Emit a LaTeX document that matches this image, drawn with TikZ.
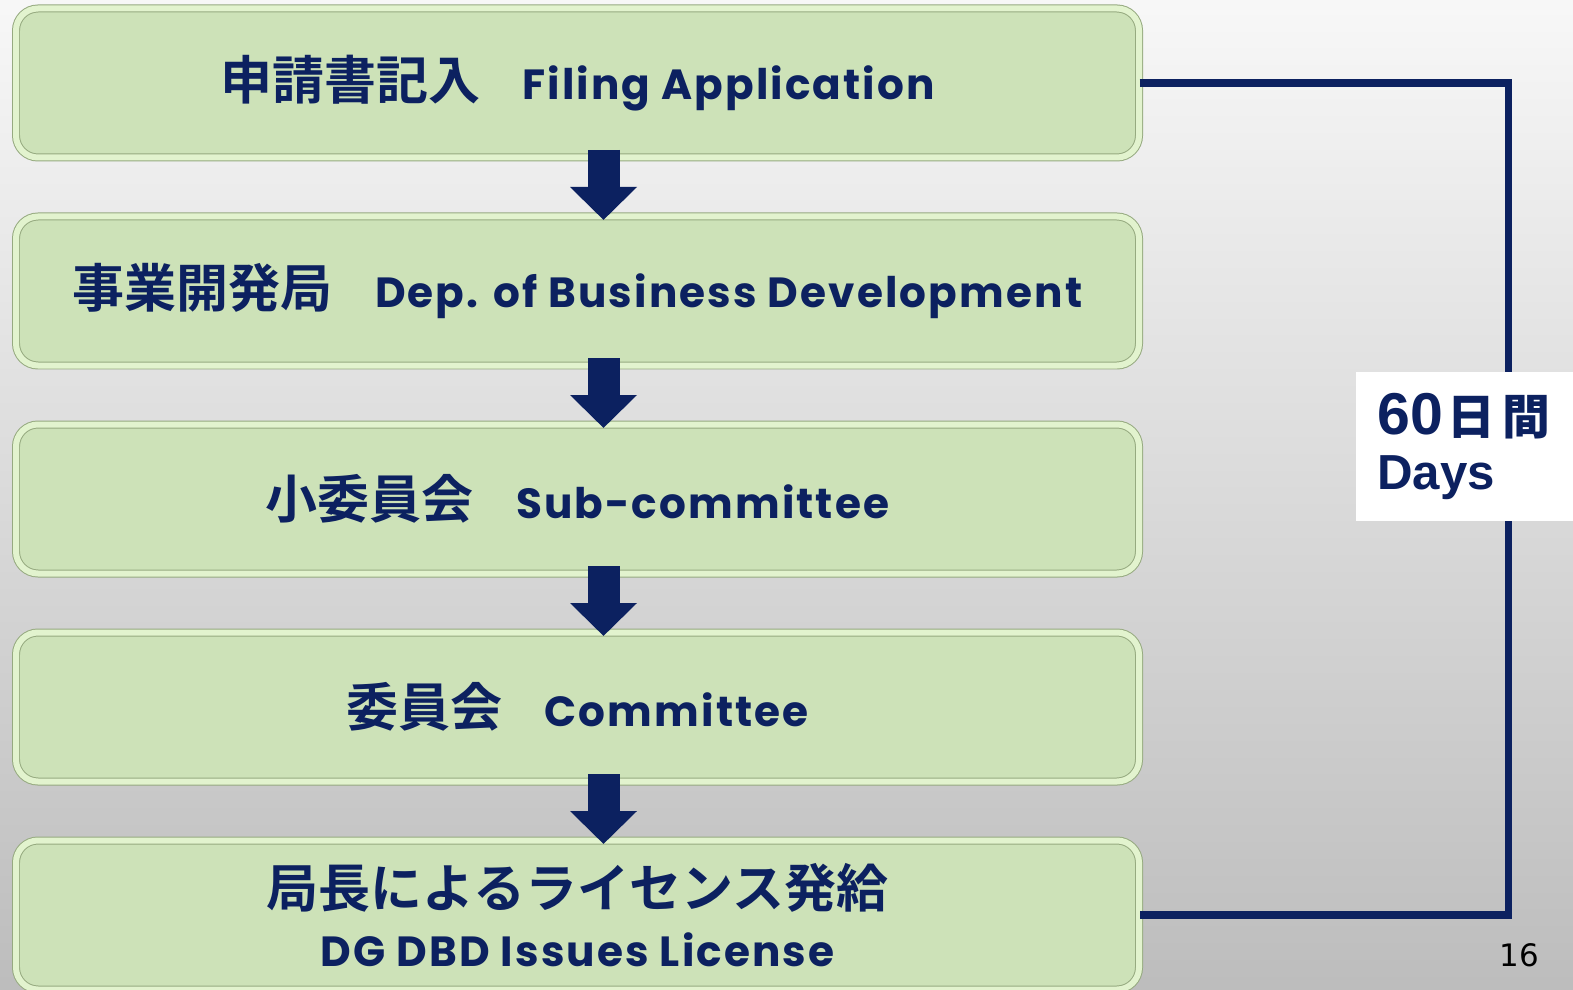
\documentclass[tikz,border=0pt]{standalone}
\usepackage{fontspec}
\setmainfont{Poppins}[LetterSpace=5]
\newfontfamily\cjk{Noto Sans CJK JP Bold}
\newfontfamily\arial{Liberation Sans}
\newfontfamily\pagefont{DejaVu Sans}
\usepackage{tikz}
\usetikzlibrary{arrows.meta,positioning}
\newcommand{\jtext}[1]{{\cjk\mdseries\fontsize{37}{42}\selectfont #1}}
\tikzset{
	% Specifications for style of nodes:
	box/.style = {rectangle, rounded corners=0.55cm,
	minimum width=28.075cm, minimum height=3.725cm,
	fill=boxgreen, draw=boxshade, double=boxlight,
	double distance=0.15cm, line width=0.025cm,
	text=navy, align=center, font=\fontsize{30}{42}\selectfont\bfseries},
	flow/.style = {draw=navy, line width=0.8cm,
	-{Triangle[width=1.625cm,length=0.825cm]}},
	bracket/.style = {draw=navy, line width=5pt},
	daysbox/.style = {rectangle, fill=white, anchor=west,
	minimum height=3.725cm, text width=5cm, inner xsep=0.525cm,
	align=left, text=navy, font=\arial\bfseries\fontsize{35}{39}\selectfont},
}
\definecolor{navy}{RGB}{12,33,96}
\definecolor{boxgreen}{RGB}{205,226,184}
\definecolor{boxlight}{RGB}{226,243,206}
\definecolor{boxshade}{RGB}{150,170,128}

\begin{document}
\begin{tikzpicture}[node distance=1.45cm]
		% background
		\shade[top color=black!3, bottom color=black!26] (0,0) rectangle (39.325,-24.75);
		\useasboundingbox (0,0) rectangle (39.325,-24.75);
		% draw blocks
		\node (filing)[box] at (14.4375,-2.075) {\jtext{申請書記入}\quad Filing Application};
		\node (dbd)[box, below=of filing] {\jtext{事業開発局}\quad Dep. of Business Development};
		\node (subcom)[box, below=of dbd] {\jtext{小委員会}\quad Sub-committee};
		\node (com)[box, below=of subcom] {\jtext{委員会}\quad Committee};
		\node (license)[box, below=of com] {\jtext{局長によるライセンス発給}\\DG DBD Issues License};
		% connection coordinate for the 60 days bracket
		\node (rail)[shape=coordinate] at (37.7,0) {};
		% draw arrows between nodes
		\draw[flow]([xshift=0.65cm,yshift=0.2cm]filing.south) -- ([xshift=0.65cm,yshift=-0.1cm]dbd.north);
		\draw[flow]([xshift=0.65cm,yshift=0.2cm]dbd.south) -- ([xshift=0.65cm,yshift=-0.1cm]subcom.north);
		\draw[flow]([xshift=0.65cm,yshift=0.2cm]subcom.south) -- ([xshift=0.65cm,yshift=-0.1cm]com.north);
		\draw[flow]([xshift=0.65cm,yshift=0.2cm]com.south) -- ([xshift=0.65cm,yshift=-0.1cm]license.north);
		\draw[bracket](filing.east) -- (filing.east -| rail) -- (license.east -| rail) -- (license.east);
		% label on the bracket
		\node (days)[daysbox] at (33.9,-11.16) {{\fontsize{42}{39}\selectfont 60}\hspace{0.1em}{\cjk\fontsize{34}{39}\selectfont 日\hspace{0.15em}間}\\
			Days};
		\node (pagenum)[font=\pagefont\fontsize{22}{24}\selectfont] at (37.975,-23.89) {16};
\end{tikzpicture}
\end{document}
